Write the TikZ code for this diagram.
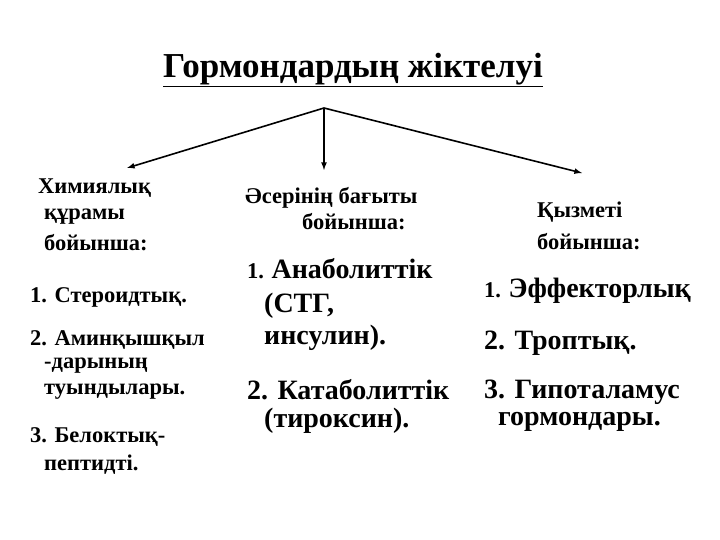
\documentclass[tikz,border=0pt]{standalone}
\usepackage{fontspec}
\setmainfont{Liberation Serif}
\begin{document}
\begin{tikzpicture}[x=1pt,y=-1pt,
 t/.style={anchor=west,inner sep=0pt,font=\bfseries\fontsize{22.5}{24}\selectfont},
 b/.style={anchor=west,inner sep=0pt,font=\bfseries\fontsize{28}{30}\selectfont},
 arr/.style={line width=1.6pt,-latex}]
\useasboundingbox (0,0) rectangle (720,540);
\node[inner sep=0pt,font=\bfseries\fontsize{35}{38}\selectfont] (title) at (353,70) {\underline{Гормондардың жіктелуі}};
\coordinate (apex) at (324,108);
\coordinate (l) at (127,168);
\coordinate (m) at (324,170);
\coordinate (r) at (582,173);
\draw[arr] (apex) -- (l);
\draw[arr] (apex) -- (m);
\draw[arr] (apex) -- (r);
\node[t] (a1) at (38,188) {Химиялық};
\node[t] (a2) at (44,217) {құрамы};
\node[t] (a3) at (44,243) {бойынша:};
\node[t] (a4) at (30,297) {1. Стероидтық.};
\node[t] (a5) at (30,340) {2. Аминқышқыл};
\node[t] (a6) at (44,366) {-дарының};
\node[t] (a7) at (44,392) {туындылары.};
\node[t] (a8) at (30,437) {3. Белоктық-};
\node[t] (a9) at (44,465) {пептидті.};
\node[t] (b1) at (245,198) {Әсерінің бағыты};
\node[t] (b2) at (302,222) {бойынша:};
\node[anchor=base west,inner sep=0pt] (b3) at (247,278) {\bfseries\fontsize{22.5}{24}\selectfont 1. \fontsize{28}{30}\selectfont Анаболиттік};
\node[b] (b4) at (264,306) {(СТГ,};
\node[b] (b5) at (264,338) {инсулин).};
\node[b] (b6) at (247,390) {2. Катаболиттік};
\node[b] (b7) at (264,421) {(тироксин).};
\node[t] (c1) at (537,212) {Қызметі};
\node[t] (c2) at (537,242) {бойынша:};
\node[anchor=base west,inner sep=0pt] (c3) at (484,297) {\bfseries\fontsize{22.5}{24}\selectfont 1. \fontsize{28}{30}\selectfont Эффекторлық};
\node[b] (c4) at (484,343) {2. Троптық.};
\node[b] (c5) at (484,392) {3. Гипоталамус};
\node[b] (c6) at (498,422) {гормондары.};
\end{tikzpicture}
\end{document}
